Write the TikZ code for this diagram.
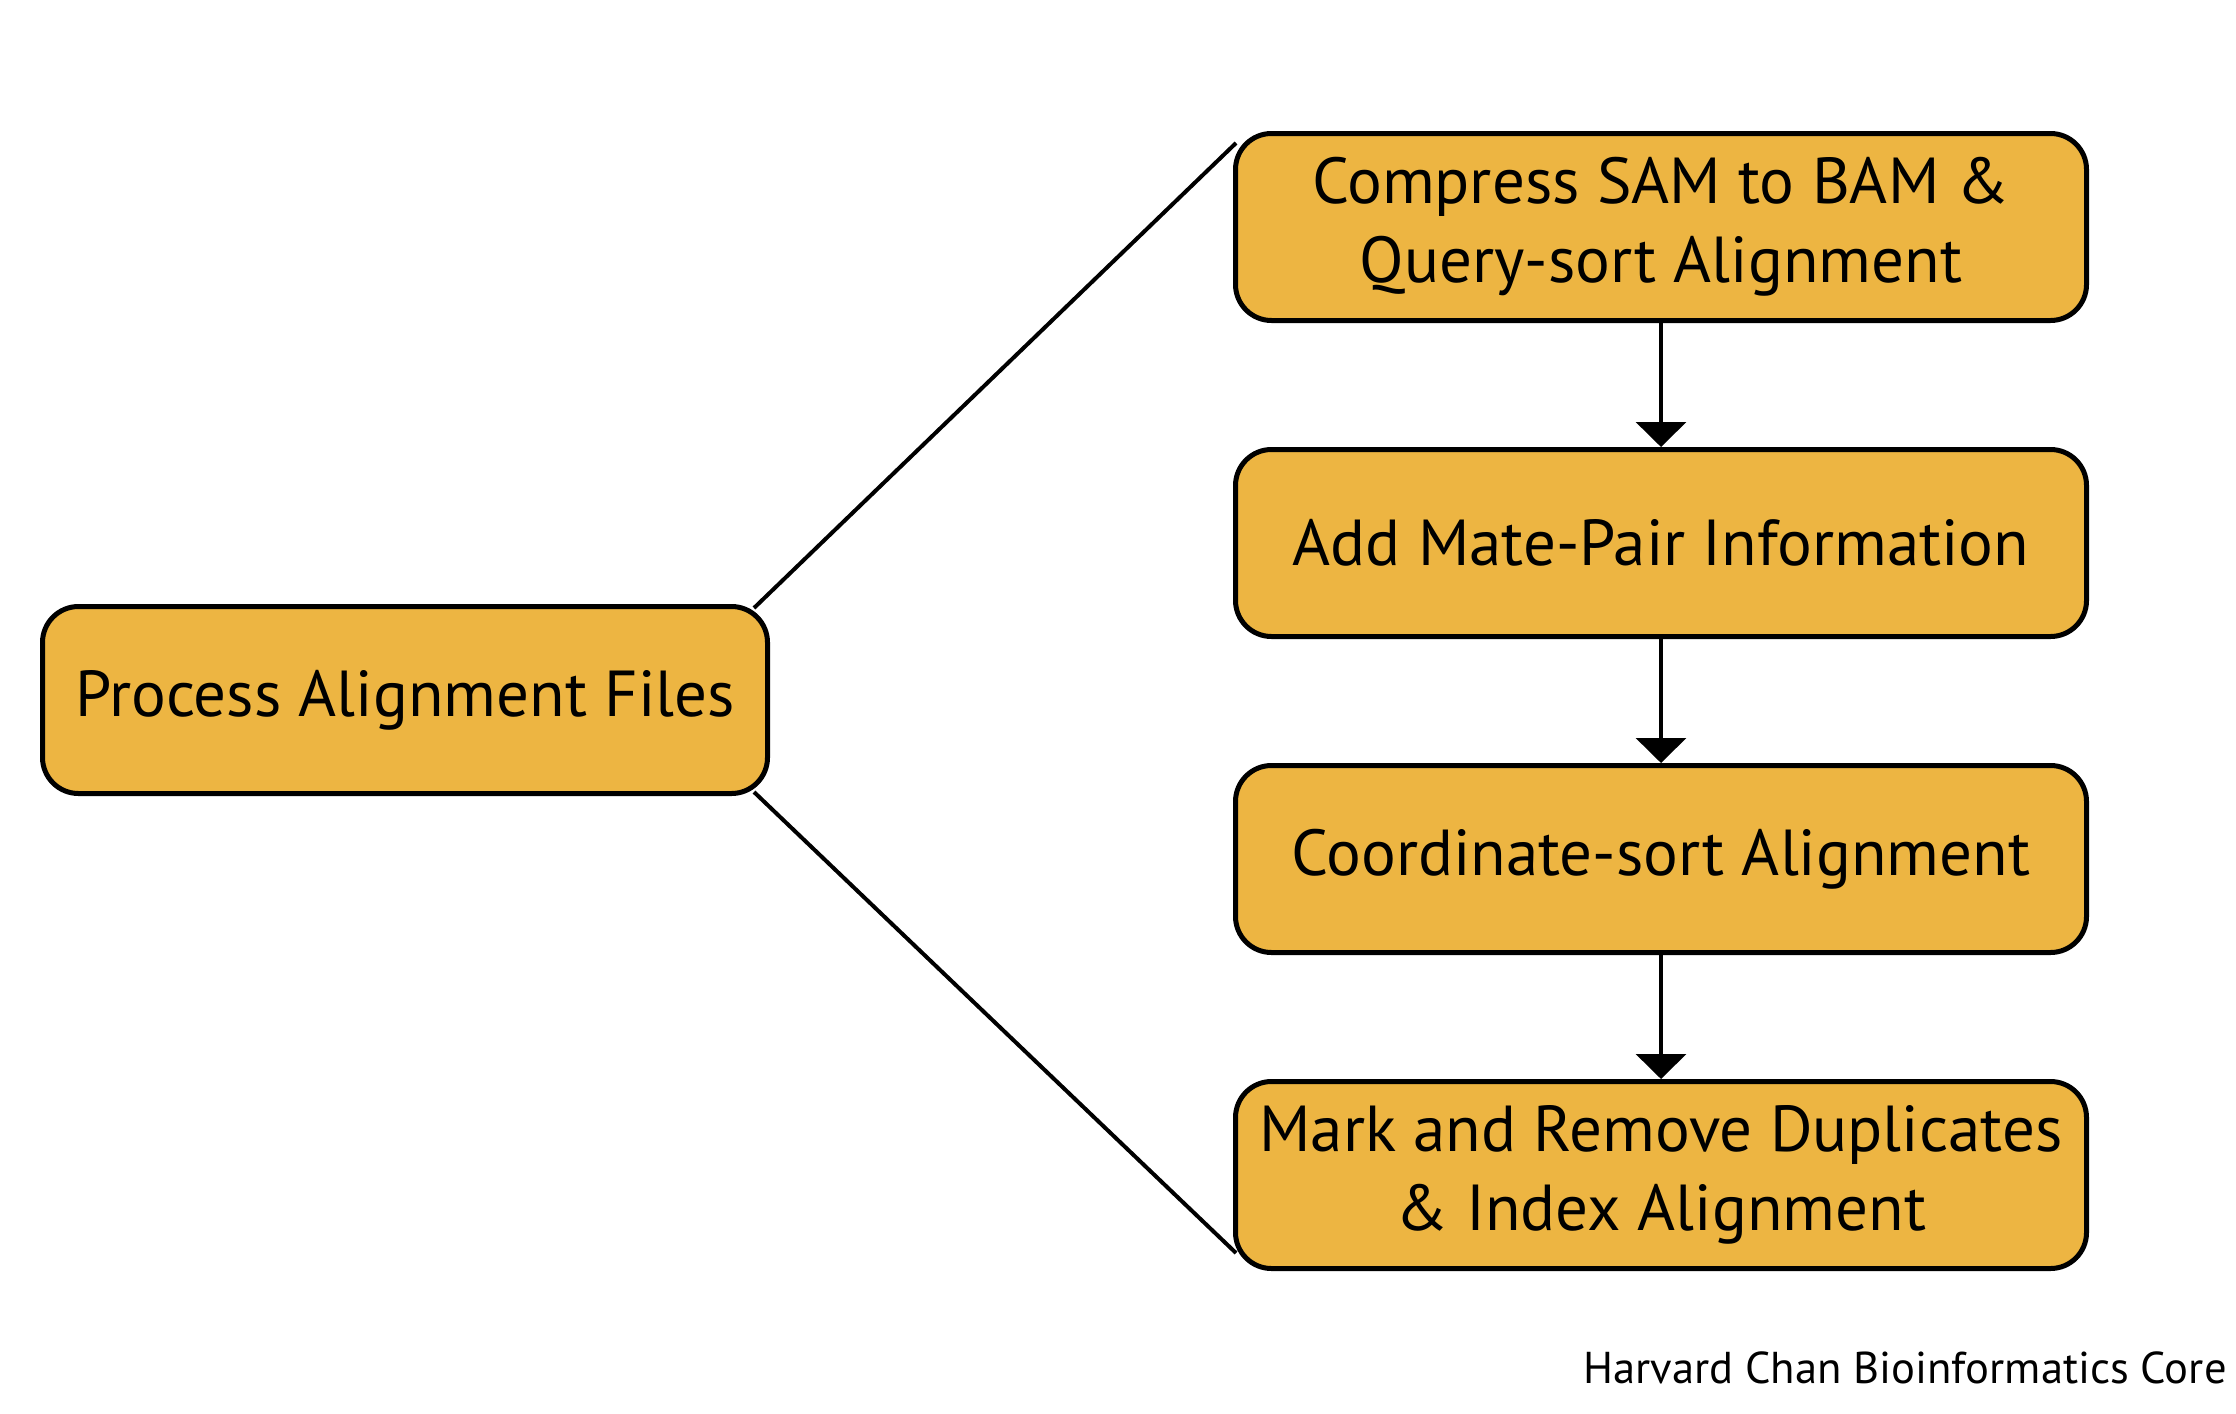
\documentclass[tikz,border=0pt]{standalone}
\usepackage{fontspec}
\setmainfont{PT Sans}
\usepackage{tikz}
\usetikzlibrary{positioning}
\usetikzlibrary{arrows.meta}
\usetikzlibrary{backgrounds}
\definecolor{boxyellow}{HTML}{EDB542}
\tikzset{task/.style={
        draw, 
        rectangle, 
        rounded corners=18pt, 
        fill=boxyellow, 
        line width=2.5pt, 
        minimum height=93.5pt, 
        minimum width=425.5pt, 
        align=center, 
        font=\fontsize{32.5}{39.5}\selectfont } }
\tikzset{taskmain/.style={
    task, 
    minimum width=362.5pt } }

\begin{document}
\begin{tikzpicture}
\useasboundingbox (0,0) rectangle (1118pt,-706.5pt);

\node[taskmain] (proc) at (202.5pt,-350pt) {Process Alignment Files}; 

\node[task] (sam2bam) at (830.5pt,-113.5pt) {Compress SAM to BAM \&\\Query-sort Alignment}; 
\node[task] (matepair) [below = 62pt of sam2bam] {Add Mate-Pair Information}; 
\node[task] (coordsort) [below = 62pt of matepair] {Coordinate-sort Alignment}; 
\node[task] (markdup) [below = 62pt of coordsort] {Mark and Remove Duplicates\\\& Index Alignment}; 

\node[anchor=base east, inner sep=0pt, font=\fontsize{22.3}{26}\selectfont] (credit) 
at (1113.5pt,-691.5pt) {Harvard Chan Bioinformatics Core}; 

\begin{scope}[on background layer]
\path[line width=2pt] 
([shift={(-8pt,-2pt)}]proc.north east) edge ([shift={(1.5pt,-6pt)}]sam2bam.north west) 
([shift={(-8pt,2pt)}]proc.south east) edge ([shift={(1.5pt,9pt)}]markdup.south west) 
;
\end{scope}

\path[-{Triangle[length=12.5pt,width=25pt]}, line width=1.75pt] 
(sam2bam) edge node []{} (matepair) 
(matepair) edge node []{} (coordsort) 
(coordsort) edge node []{} (markdup) 
;

\end{tikzpicture}
\end{document}
